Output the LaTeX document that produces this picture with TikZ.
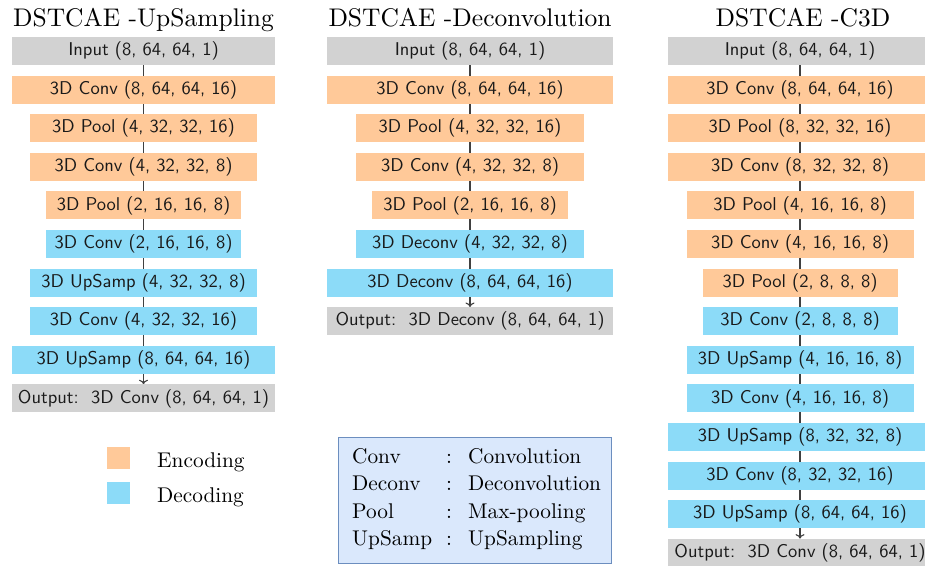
\documentclass[tikz,border=0pt]{standalone}
\usepackage{fontspec}
\newfontfamily\lmrten{lmroman10-regular.otf}
\newfontfamily\lmsten{lmsans10-regular.otf}
\usetikzlibrary{backgrounds,arrows.meta}
\definecolor{encC}{RGB}{255,201,153}
\definecolor{decC}{RGB}{140,219,248}
\definecolor{ioC}{RGB}{210,210,210}
\definecolor{legFill}{RGB}{218,232,252}
\definecolor{legDraw}{RGB}{108,142,191}
\definecolor{txtC}{RGB}{25,25,25}
\tikzset{
  layer/.style={rectangle, inner sep=0pt, minimum height=28pt, text=txtC,
    font=\lmsten\fontsize{18.5}{20}\selectfont},
  enc/.style={layer, fill=encC},
  dec/.style={layer, fill=decC},
  io/.style={layer, fill=ioC},
  full/.style={minimum width=263pt},
  mid/.style={minimum width=227pt},
  nar/.style={minimum width=195pt},
  title/.style={font=\lmrten\fontsize{25.5}{28}\selectfont, anchor=base, inner sep=0pt},
  legtxt/.style={font=\lmrten\fontsize{21.3}{24}\selectfont, anchor=base west, inner sep=0pt},
  flow/.style={draw=black!75, line width=1.1pt, -{To[length=4.5pt,width=9pt]}},
}
\begin{document}
\begin{tikzpicture}[x=1pt,y=-1pt]
\useasboundingbox (0,0) rectangle (925,565);
\clip (0,0) rectangle (925,565);
% titles
\node[title] (t1) at (143.5,26) {DSTCAE -UpSampling};
\node[title] (t2) at (470,26) {DSTCAE -Deconvolution};
\node[title] (t3) at (803,26) {DSTCAE -C3D};
% column 1
\node[io,full]  (a0) at (143.5,51)    {Input (8, 64, 64, 1)};
\node[enc,full] (a1) at (143.5,89.6)  {3D Conv (8, 64, 64, 16)};
\node[enc,mid]  (a2) at (143.5,128.2) {3D Pool (4, 32, 32, 16)};
\node[enc,mid]  (a3) at (143.5,166.8) {3D Conv (4, 32, 32, 8)};
\node[enc,nar]  (a4) at (143.5,205.4) {3D Pool (2, 16, 16, 8)};
\node[dec,nar]  (a5) at (143.5,244)   {3D Conv (2, 16, 16, 8)};
\node[dec,mid]  (a6) at (143.5,282.6) {3D UpSamp (4, 32, 32, 8)};
\node[dec,mid]  (a7) at (143.5,321.2) {3D Conv (4, 32, 32, 16)};
\node[dec,full] (a8) at (143.5,359.8) {3D UpSamp (8, 64, 64, 16)};
\node[io,full]  (a9) at (143.5,398.4) {Output:\ \ 3D Conv (8, 64, 64, 1)};
% column 2
\node[io,minimum width=286pt]  (b0) at (470,51)    {Input (8, 64, 64, 1)};
\node[enc,minimum width=286pt] (b1) at (470,89.6)  {3D Conv (8, 64, 64, 16)};
\node[enc,minimum width=228pt] (b2) at (470,128.2) {3D Pool (4, 32, 32, 16)};
\node[enc,minimum width=228pt] (b3) at (470,166.8) {3D Conv (4, 32, 32, 8)};
\node[enc,minimum width=196pt] (b4) at (470,205.4) {3D Pool (2, 16, 16, 8)};
\node[dec,minimum width=228pt] (b5) at (470,244)   {3D Deconv (4, 32, 32, 8)};
\node[dec,minimum width=286pt] (b6) at (470,282.6) {3D Deconv (8, 64, 64, 16)};
\node[io,minimum width=286pt]  (b7) at (470,321.2) {Output:\ \ 3D Deconv (8, 64, 64, 1)};
% column 3
\node[io,minimum width=264pt]  (c0)  at (800,51)    {Input (8, 64, 64, 1)};
\node[enc,minimum width=264pt] (c1)  at (800,89.6)  {3D Conv (8, 64, 64, 16)};
\node[enc,minimum width=264pt] (c2)  at (800,128.2) {3D Pool (8, 32, 32, 16)};
\node[enc,minimum width=264pt] (c3)  at (800,166.8) {3D Conv (8, 32, 32, 8)};
\node[enc,mid] (c4)  at (800,205.4) {3D Pool (4, 16, 16, 8)};
\node[enc,mid] (c5)  at (800,244)   {3D Conv (4, 16, 16, 8)};
\node[enc,nar] (c6)  at (800,282.6) {3D Pool (2, 8, 8, 8)};
\node[dec,nar] (c7)  at (800,321.2) {3D Conv (2, 8, 8, 8)};
\node[dec,mid] (c8)  at (800,359.8) {3D UpSamp (4, 16, 16, 8)};
\node[dec,mid] (c9)  at (800,398.4) {3D Conv (4, 16, 16, 8)};
\node[dec,minimum width=264pt] (c10) at (800,437)   {3D UpSamp (8, 32, 32, 8)};
\node[dec,minimum width=264pt] (c11) at (800,475.6) {3D Conv (8, 32, 32, 16)};
\node[dec,minimum width=264pt] (c12) at (800,514.2) {3D UpSamp (8, 64, 64, 16)};
\node[io,minimum width=264pt]  (c13) at (800,552.8) {Output:\ \ 3D Conv (8, 64, 64, 1)};
% connectors behind the boxes
\begin{scope}[on background layer]
\draw[flow] (a0.south) -- (a9.north);
\draw[flow] (b0.south) -- (b7.north);
\draw[flow] (c0.south) -- (c13.north);
\end{scope}
% colour legend
\node[rectangle, fill=encC, minimum width=23pt, minimum height=22pt, inner sep=0pt] (ke) at (118.5,457.5) {};
\node[rectangle, fill=decC, minimum width=23pt, minimum height=22pt, inner sep=0pt] (kd) at (118.5,492.5) {};
\node[legtxt] (le) at (157,467) {Encoding};
\node[legtxt] (ld) at (157,502) {Decoding};
% abbreviation legend
\node[rectangle, fill=legFill, draw=legDraw, line width=0.8pt, minimum width=273pt, minimum height=126pt, inner sep=0pt] (leg) at (474.5,500) {};
\node[legtxt] (k1) at (352,463) {Conv};
\node[legtxt] (k2) at (352,490.5) {Deconv};
\node[legtxt] (k3) at (352,518) {Pool};
\node[legtxt] (k4) at (352,545.5) {UpSamp};
\node[legtxt,anchor=base] (s1) at (449,463) {:};
\node[legtxt,anchor=base] (s2) at (449,490.5) {:};
\node[legtxt,anchor=base] (s3) at (449,518) {:};
\node[legtxt,anchor=base] (s4) at (449,545.5) {:};
\node[legtxt] (v1) at (468,463) {Convolution};
\node[legtxt] (v2) at (468,490.5) {Deconvolution};
\node[legtxt] (v3) at (468,518) {Max-pooling};
\node[legtxt] (v4) at (468,545.5) {UpSampling};
\end{tikzpicture}
\end{document}
